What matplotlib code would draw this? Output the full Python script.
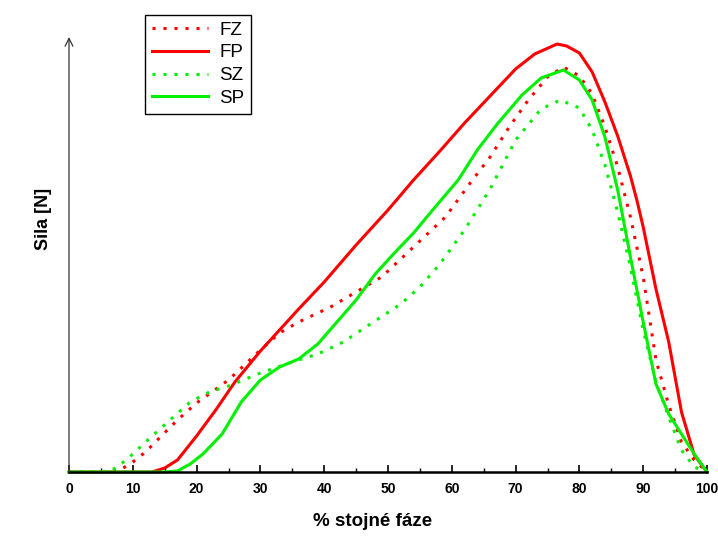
import matplotlib

matplotlib.use("Agg")
import matplotlib.pyplot as plt
from matplotlib.ticker import MultipleLocator

plt.rcParams["font.family"] = ["Liberation Sans", "DejaVu Sans"]

# % of stance phase vs force (arbitrary units)
fz_x = [0, 5, 8, 10, 12, 14, 17, 20, 25, 30, 33, 36, 41, 45, 49, 54, 59, 63, 66, 69,
        72, 75, 77.5, 80, 82, 84, 86, 88, 90, 92, 94, 96, 98, 100]
fz_y = [0, 0, 2, 10, 20, 33, 52, 69, 92, 122, 139, 150, 165, 180, 195, 225, 255, 290, 315, 345,
        372, 395, 405, 396, 378, 345, 305, 255, 195, 112, 67, 30, 12, 0]

fp_x = [0, 5, 10, 13, 15, 17, 20, 23, 26, 30, 33, 36, 40, 45, 50, 54, 58, 62, 66, 70,
        73, 76.5, 78, 80, 82, 84, 86, 88, 89, 90, 92, 94, 96, 98, 100]
fp_y = [0, 0, 0, 0, 4, 12, 36, 62, 90, 121, 142, 163, 190, 227, 262, 292, 320, 349, 376, 403,
        418, 428, 426, 419, 400, 370, 336, 296, 272, 245, 183, 130, 60, 17, 0]

sz_x = [0, 5, 7, 9, 12, 16, 19, 22, 25, 30, 35, 39, 43, 47, 52, 55, 58, 62, 66, 70,
        74, 77, 80, 82, 84, 86, 88, 90, 92, 94, 96, 98, 100]
sz_y = [0, 0, 3, 12, 30, 53, 70, 80, 86, 99, 110, 118, 130, 147, 168, 185, 207, 242, 283, 332,
        363, 372, 364, 342, 307, 260, 205, 142, 90, 55, 22, 5, 0]

sp_x = [0, 5, 10, 15, 17, 19, 21, 24, 27, 30, 33, 36, 39, 42, 45, 48, 51, 54, 57, 61,
        64, 67, 71, 74, 77.5, 80, 82, 84, 86, 88, 90, 92, 94, 96, 98, 100]
sp_y = [0, 0, 0, 0, 1, 8, 18, 38, 70, 92, 105, 113, 128, 150, 172, 198, 219, 239, 262, 292,
        322, 347, 377, 394, 402, 392, 372, 335, 282, 215, 150, 88, 58, 38, 18, 0]

RED = "#ff0000"
GREEN = "#00f000"
DOT = (0, (1, 2.6))

fig = plt.figure(figsize=(7.18, 5.43), dpi=100)
ax = fig.add_axes([69 / 718, 71 / 543, 638 / 718, 435 / 543])

ax.plot(fz_x, fz_y, color=RED, lw=2.2, ls=DOT, label="FZ", clip_on=False)
ax.plot(fp_x, fp_y, color=RED, lw=2.2, label="FP", clip_on=False)
ax.plot(sz_x, sz_y, color=GREEN, lw=2.2, ls=DOT, label="SZ", clip_on=False)
ax.plot(sp_x, sp_y, color=GREEN, lw=2.2, label="SP", clip_on=False)

ax.set_xlim(0, 100)
ax.set_ylim(0, 435)
for s in ("top", "right", "left"):
    ax.spines[s].set_visible(False)
ax.spines["bottom"].set_linewidth(1.8)
ax.set_yticks([])
ax.xaxis.set_major_locator(MultipleLocator(10))
ax.xaxis.set_minor_locator(MultipleLocator(5))
ax.tick_params(axis="x", which="major", direction="in", length=5, width=1.2,
               labelsize=10, pad=7)
ax.tick_params(axis="x", which="minor", direction="in", length=3, width=1)
for t in ax.get_xticklabels():
    t.set_fontweight("bold")

# y axis drawn as an arrow
ax.annotate("", xy=(0, 435), xytext=(0, 0), xycoords="data",
            arrowprops=dict(arrowstyle="->", color="#333333", lw=0.9,
                            mutation_scale=14, shrinkA=0, shrinkB=0),
            annotation_clip=False)

fig.text(373 / 718, 1 - 522 / 543, "% stojné fáze", ha="center", va="center",
         fontsize=13.5, fontweight="bold")
fig.text(43 / 718, 1 - 219 / 543, "Sila [N]", ha="center", va="center",
         rotation=90, fontsize=13, fontweight="bold")

fig.legend(loc="upper left", bbox_to_anchor=(145 / 718, 1 - 15 / 543),
           borderaxespad=0, fontsize=13.5, frameon=True, fancybox=False,
           edgecolor="black", framealpha=1, handlelength=3.0, labelspacing=0.3,
           borderpad=0.35, handletextpad=0.6)

fig.savefig("out.png", dpi=100)
